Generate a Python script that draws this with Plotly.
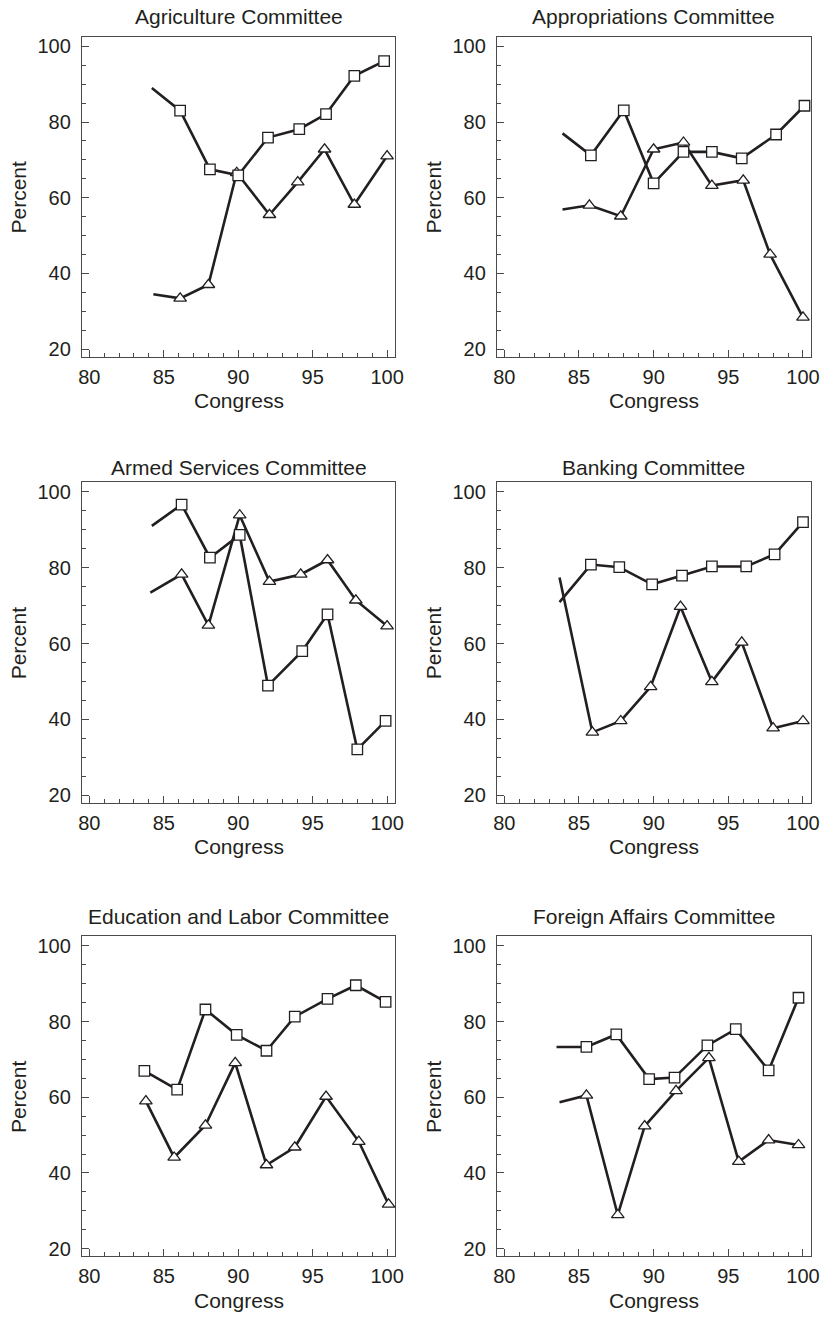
import plotly.graph_objects as go

# ---------------- data ----------------
X_RANGE = [79.5, 100.55]
Y_RANGE = [18.0, 102.5]

TITLES = [
    "Agriculture Committee",
    "Appropriations Committee",
    "Armed Services Committee",
    "Banking Committee",
    "Education and Labor Committee",
    "Foreign Affairs Committee",
]
X_LABEL = "Congress"
Y_LABEL = "Percent"

agri_sq_x = [84.2, 86.1, 88.1, 90.0, 92.0, 94.1, 95.9, 97.8, 99.8]
agri_sq_y = [89.0, 83.0, 67.5, 65.9, 75.9, 78.1, 82.1, 92.2, 96.1]
agri_tri_x = [84.3, 86.1, 88.0, 89.9, 92.1, 94.0, 95.8, 97.8, 100.0]
agri_tri_y = [34.5, 33.4, 37.0, 66.6, 55.5, 64.1, 72.8, 58.2, 71.0]

appr_sq_x = [83.9, 85.8, 88.0, 90.0, 92.0, 93.9, 95.9, 98.2, 100.1]
appr_sq_y = [77.0, 71.2, 83.1, 63.8, 72.1, 72.1, 70.4, 76.7, 84.3]
appr_tri_x = [83.9, 85.7, 87.8, 90.0, 92.0, 93.9, 96.0, 97.8, 100.0]
appr_tri_y = [56.9, 58.0, 55.1, 72.8, 74.6, 63.2, 64.6, 45.0, 28.4]

arm_sq_x = [84.2, 86.2, 88.1, 90.1, 92.0, 94.3, 96.0, 98.0, 99.9]
arm_sq_y = [91.0, 96.6, 82.6, 88.6, 48.9, 58.0, 67.7, 32.1, 39.6]
arm_tri_x = [84.1, 86.2, 88.0, 90.1, 92.1, 94.2, 96.0, 97.9, 100.0]
arm_tri_y = [73.4, 78.2, 64.8, 93.8, 76.3, 78.2, 82.0, 71.4, 64.6]

bank_sq_x = [83.7, 85.8, 87.7, 89.9, 91.9, 93.9, 96.2, 98.1, 100.0]
bank_sq_y = [70.9, 80.8, 80.1, 75.6, 77.9, 80.3, 80.3, 83.5, 92.0]
bank_tri_x = [83.7, 85.9, 87.8, 89.8, 91.8, 93.9, 95.9, 98.0, 100.0]
bank_tri_y = [77.4, 36.6, 39.6, 48.6, 69.7, 49.9, 60.3, 37.7, 39.6]

edu_sq_x = [83.7, 85.9, 87.8, 89.9, 91.9, 93.8, 96.0, 97.9, 99.9]
edu_sq_y = [67.0, 62.0, 83.2, 76.5, 72.3, 81.3, 86.0, 89.6, 85.2]
edu_tri_x = [83.8, 85.7, 87.8, 89.8, 91.9, 93.8, 95.9, 98.1, 100.1]
edu_tri_y = [59.0, 44.1, 52.6, 69.1, 42.1, 46.8, 60.2, 48.3, 31.7]

fa_sq_x = [83.5, 85.5, 87.5, 89.7, 91.4, 93.6, 95.5, 97.7, 99.7]
fa_sq_y = [73.3, 73.3, 76.6, 64.8, 65.2, 73.7, 78.0, 67.1, 86.3]
fa_tri_x = [83.7, 85.5, 87.6, 89.4, 91.5, 93.7, 95.7, 97.7, 99.7]
fa_tri_y = [58.7, 60.5, 28.9, 52.4, 61.7, 70.4, 43.0, 48.7, 47.4]

# index of the first point that carries a marker (earlier points are line-only)
first_marked = [1, 1, 1, 1, 0, 1]

panels = [
    (agri_sq_x, agri_sq_y, agri_tri_x, agri_tri_y),
    (appr_sq_x, appr_sq_y, appr_tri_x, appr_tri_y),
    (arm_sq_x, arm_sq_y, arm_tri_x, arm_tri_y),
    (bank_sq_x, bank_sq_y, bank_tri_x, bank_tri_y),
    (edu_sq_x, edu_sq_y, edu_tri_x, edu_tri_y),
    (fa_sq_x, fa_sq_y, fa_tri_x, fa_tri_y),
]

# ---------------- layout geometry (pixels) ----------------
W, H = 833, 1317
COLS = [(79, 397), (500, 819)]
ROWS = [(35, 356), (482, 804), (938, 1259)]
TITLE_Y = [15, 467, 918]

INK = "#231f20"
FRAME = "#4a4a4a"
FONT = "Liberation Sans, Arial, Helvetica, sans-serif"


def fx(px):
    return px / W


def fy(py):
    return 1 - py / H


fig = go.Figure()
annotations = []
layout_axes = {}

for i, (sx, sy, tx, ty) in enumerate(panels):
    r, c = divmod(i, 2)
    x0, x1 = COLS[c]
    y0, y1 = ROWS[r]
    suf = "" if i == 0 else str(i + 1)
    xa, ya = "x" + suf, "y" + suf
    k = first_marked[i]

    for xs, ys in ((sx, sy), (tx, ty)):
        fig.add_trace(go.Scatter(
            x=xs, y=ys, xaxis=xa, yaxis=ya, mode="lines",
            line=dict(color=INK, width=2.6), hoverinfo="skip", showlegend=False))
    for xs, ys, sym, size in ((tx, ty, "triangle-up", 11), (sx, sy, "square", 10.5)):
        fig.add_trace(go.Scatter(
            x=xs[k:], y=ys[k:], xaxis=xa, yaxis=ya, mode="markers",
            marker=dict(symbol=sym, size=size, color="white",
                        line=dict(color=INK, width=1.3)),
            showlegend=False))

    common = dict(
        showline=True, linecolor=FRAME, linewidth=1, mirror=True,
        ticks="inside", ticklen=7, tickwidth=1, tickcolor=FRAME,
        showgrid=False, zeroline=False,
        tickfont=dict(size=20, color=INK, family=FONT),
    )
    layout_axes["xaxis" + suf] = dict(
        common, domain=[fx(x0), fx(x1)], anchor=ya, range=X_RANGE,
        tickmode="linear", tick0=80, dtick=5, ticklabelstandoff=2,
        minor=dict(ticks="inside", ticklen=4, tickwidth=1, tickcolor=FRAME,
                   dtick=1, tick0=80, showgrid=False),
    )
    layout_axes["yaxis" + suf] = dict(
        common, domain=[fy(y1), fy(y0)], anchor=xa, range=Y_RANGE,
        tickmode="linear", tick0=0, dtick=20, ticklabelstandoff=6,
        minor=dict(ticks="inside", ticklen=4, tickwidth=1, tickcolor=FRAME,
                   dtick=5, tick0=0, showgrid=False),
    )

    cx = (x0 + x1) / 2
    annotations.append(dict(
        text=TITLES[i], xref="paper", yref="paper", x=fx(cx), y=fy(TITLE_Y[r]),
        xanchor="center", yanchor="middle", showarrow=False,
        font=dict(size=21, color=INK, family=FONT)))
    annotations.append(dict(
        text=X_LABEL, xref="paper", yref="paper", x=fx(cx), y=fy(y1 + 44),
        xanchor="center", yanchor="middle", showarrow=False,
        font=dict(size=21, color=INK, family=FONT)))
    annotations.append(dict(
        text=Y_LABEL, xref="paper", yref="paper", x=fx(x0 - 64), y=fy((y0 + y1) / 2),
        xanchor="center", yanchor="middle", showarrow=False, textangle=-90,
        font=dict(size=21, color=INK, family=FONT)))

fig.update_layout(
    width=W, height=H,
    margin=dict(l=0, r=0, t=0, b=0),
    paper_bgcolor="white", plot_bgcolor="white",
    showlegend=False,
    annotations=annotations,
    font=dict(family=FONT, color=INK),
    **layout_axes,
)

fig.write_html("out.html")
